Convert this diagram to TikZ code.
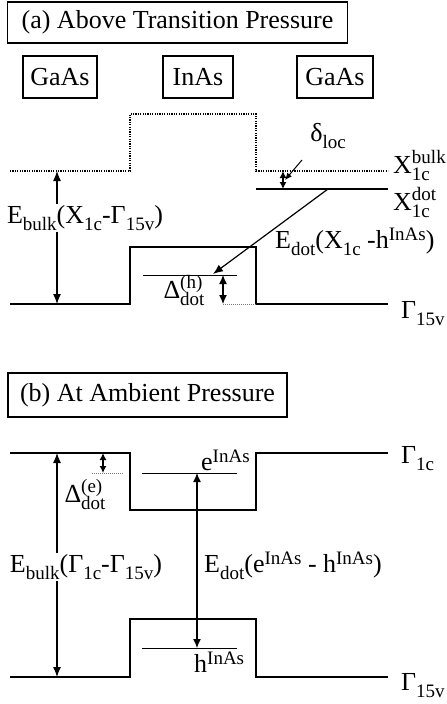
\documentclass[tikz,border=0pt]{standalone}
\usepackage{fontspec}
\setmainfont{Liberation Serif}
\usetikzlibrary{arrows.meta}
\tikzset{
  band/.style={line width=2pt},
  dotband/.style={line width=2pt, dash pattern=on 1.2pt off 1.2pt},
  lev/.style={line width=1pt},
  gdot/.style={line width=1pt, gray, dash pattern=on 1pt off 1pt},
  arr/.style={line width=1.2pt, -{Latex[length=10pt,width=8pt]}},
  darr/.style={line width=1.2pt, {Latex[length=9pt,width=8pt]}-{Latex[length=9pt,width=8pt]}},
  sdarr/.style={line width=1.2pt, {Latex[length=7pt,width=7pt]}-{Latex[length=7pt,width=7pt]}},
  sarr/.style={line width=1pt, -{Latex[length=7pt,width=6pt]}},
  boxlab/.style={draw, line width=1.5pt, inner sep=0pt, minimum height=42pt, font=\fontsize{26}{30}\selectfont},
  lab/.style={inner sep=1pt, font=\fontsize{26}{30}\selectfont},
}
\newcommand{\scr}{\fontsize{19}{19}\selectfont}
\newcommand{\sbs}[1]{\raisebox{-0.28em}{\scr #1}}
\newcommand{\sps}[1]{\raisebox{0.27em}{\scr #1}}
\newcommand{\sts}[2]{\setbox0\hbox{\scr #1}\setbox2\hbox{\scr #2}%
  \ifdim\wd0>\wd2 \makebox[0pt][l]{\raisebox{-0.27em}{\box2}}\raisebox{0.38em}{\box0}%
  \else \makebox[0pt][l]{\raisebox{0.38em}{\box0}}\raisebox{-0.27em}{\box2}\fi}
\begin{document}
\begin{tikzpicture}[x=1pt, y=-1pt]
\useasboundingbox (0,0) rectangle (447,704);
% ---------- panel (a) ----------
\node[boxlab, minimum width=340pt, minimum height=41pt] (ta) at (177.5,22.5) {(a) Above Transition Pressure};
\node[boxlab, minimum width=74pt] (g1) at (60,77) {GaAs};
\node[boxlab, minimum width=70pt] (in) at (198,77) {InAs};
\node[boxlab, minimum width=76pt] (g2) at (335,77) {GaAs};

\draw[dotband] (10,171) -- (130,171) -- (130,114) -- (256,114) -- (256,171) -- (388,171);
\draw[band] (256,189) -- (388,189);
\draw[band] (10,304) -- (130,304) -- (130,247) -- (256,247) -- (256,304) -- (388,304);
\draw[lev] (143,275) -- (237,275);
\draw[gdot] (223,304) -- (256,304);

\coordinate (xa) at (57,171);
\coordinate (ga) at (57,304);
\node[lab, anchor=base] (eba) at (85,223) {E\sbs{bulk}(X\sbs{1c}-Γ\sbs{15v})};
\draw[arr] (eba.north -| xa) -- (xa);
\draw[arr] (eba.south -| ga) -- (ga);

\coordinate (dl1) at (283,171);
\coordinate (dl2) at (283,189);
\draw[sdarr] (dl1) -- (dl2);
\node[lab] (dloc) at (328,136) {δ\sbs{loc}};
\coordinate (dls) at (302,160);
\coordinate (dlm) at (285,180);
\draw[sarr] (dls) -- (dlm);

\node[lab, anchor=base west, inner sep=0pt] (xb) at (393,173) {X\sts{bulk}{1c}};
\node[lab, anchor=base west, inner sep=0pt] (xd) at (393,210) {X\sts{dot}{1c}};

\coordinate (eds) at (328,189);
\coordinate (ede) at (213,274);
\draw[arr] (eds) -- (ede);
\node[lab, anchor=base west] (eda) at (274,248) {E\sbs{dot}(X\sbs{1c} -h\sps{InAs})};

\coordinate (dh1) at (223,275);
\coordinate (dh2) at (223,304);
\draw[darr] (dh1) -- (dh2);
\node[lab, anchor=base] (dha) at (184,298) {Δ\sts{(h)}{dot}};

\node[lab, anchor=base west] (gva) at (400,318) {Γ\sbs{15v}};

% ---------- panel (b) ----------
\node[boxlab, minimum width=279pt, minimum height=44pt] (tb) at (147.5,395) {(b) At Ambient Pressure};

\draw[band] (10,453) -- (130,453) -- (130,510) -- (256,510) -- (256,453) -- (388,453);
\draw[band] (10,677) -- (130,677) -- (130,619) -- (256,619) -- (256,677) -- (388,677);
\draw[lev] (142,473) -- (237,473);
\draw[lev] (142,648) -- (237,648);
\draw[gdot] (92,473) -- (123,473);

\coordinate (de1) at (103,453);
\coordinate (de2) at (103,473);
\draw[sdarr] (de1) -- (de2);
\node[lab, anchor=base] (dea) at (85,502) {Δ\sts{(e)}{dot}};

\node[lab, anchor=base west] (ela) at (200,470) {e\sps{InAs}};
\node[lab, anchor=base west] (hla) at (193,672) {h\sps{InAs}};

\coordinate (xb1) at (57,453);
\coordinate (xb2) at (57,677);
\node[lab, anchor=base] (ebb) at (86,572) {E\sbs{bulk}(Γ\sbs{1c}-Γ\sbs{15v})};
\draw[arr] (ebb.north -| xb1) -- (xb1);
\draw[arr] (ebb.south -| xb2) -- (xb2);

\coordinate (eb1) at (197,473);
\coordinate (eb2) at (197,648);
\draw[darr] (eb1) -- (eb2);
\node[lab, anchor=base west] (edb) at (203,572) {E\sbs{dot}(e\sps{InAs} - h\sps{InAs})};

\node[lab, anchor=base west] (gcb) at (400,463) {Γ\sbs{1c}};
\node[lab, anchor=base west] (gvb) at (400,690) {Γ\sbs{15v}};
\end{tikzpicture}
\end{document}
